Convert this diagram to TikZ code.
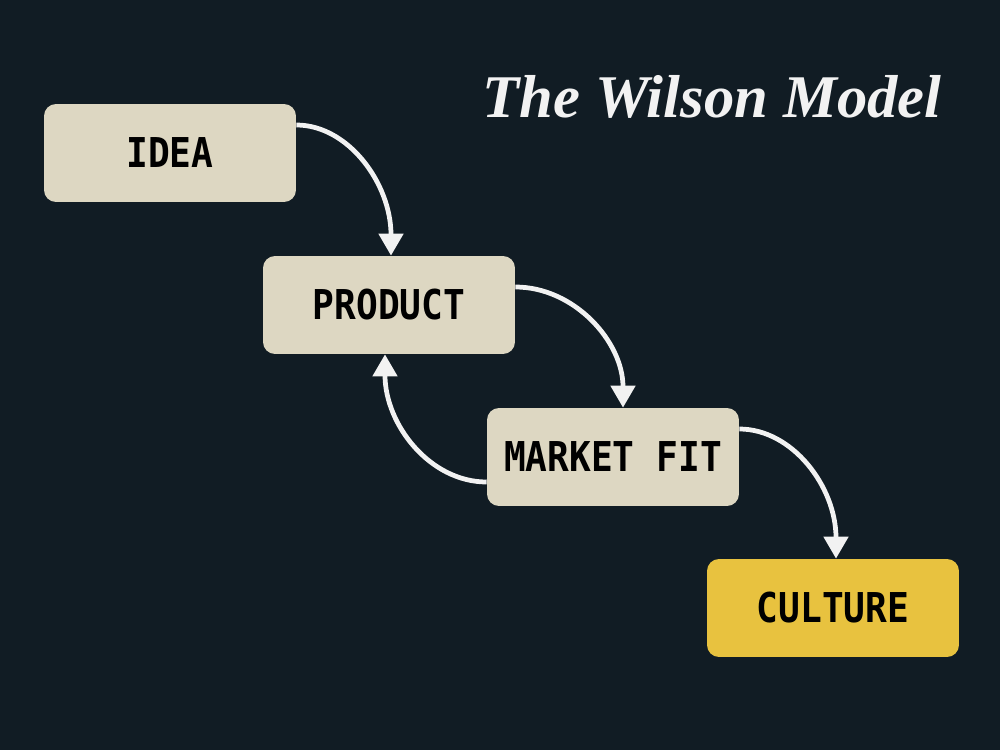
\documentclass[tikz,border=0pt]{standalone}
\usepackage{fontspec}
\usetikzlibrary{arrows.meta,calc}
\newfontfamily\boxfont[FakeStretch=0.88]{DejaVu Sans Mono Bold}
\newfontfamily\titlefont{Liberation Serif}
\definecolor{bgcol}{HTML}{111C24}
\definecolor{boxcol}{HTML}{DDD7C2}
\definecolor{culcol}{HTML}{E8C23F}
\definecolor{arrcol}{HTML}{F2F2F2}
\tikzset{
  stagebox/.style={rectangle, rounded corners=0.24cm, fill=boxcol, minimum width=5.04cm, minimum height=1.96cm, inner sep=0pt, text=black, font=\boxfont\fontsize{23.4}{26}\selectfont},
  flowarrow/.style={draw=arrcol, line width=0.095cm, -{Triangle[width=0.48cm,length=0.44cm]}}
}
\begin{document}
\begin{tikzpicture}[x=0.02cm,y=-0.02cm]
\fill[bgcol] (0,0) rectangle (1000,750);
\useasboundingbox (0,0) rectangle (1000,750);
\node[anchor=base east, text=arrcol, inner sep=0pt, font=\titlefont\bfseries\itshape\fontsize{34.5}{40}\selectfont] (title) at (942,117) {The Wilson Model};
\node[stagebox] (idea) at (170,153) {IDEA};
\node[stagebox] (product) at (389,305) {PRODUCT};
\node[stagebox] (market) at (613,457) {MARKET FIT};
\node[stagebox, fill=culcol] (culture) at (833,608) {CULTURE};
\draw[flowarrow] ($(idea.east)+(0,-28)$) .. controls +(52,0) and +(0,-72) .. ($(product.north)+(2,0)$);
\draw[flowarrow] ($(product.east)+(0,-18)$) .. controls +(59,0) and +(0,-66) .. ($(market.north)+(10,0)$);
\draw[flowarrow] ($(market.west)+(0,25)$) .. controls +(-57,0) and +(0,70) .. ($(product.south)+(-4,0)$);
\draw[flowarrow] ($(market.east)+(0,-28)$) .. controls +(53,0) and +(0,-72) .. ($(culture.north)+(3,0)$);
\end{tikzpicture}
\end{document}
